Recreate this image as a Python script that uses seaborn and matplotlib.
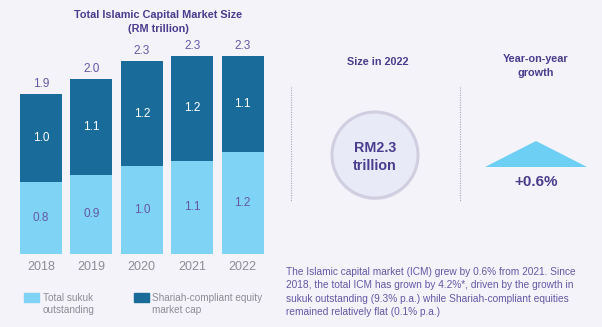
import matplotlib
matplotlib.use("Agg")
import matplotlib.pyplot as plt
import seaborn as sns
import pandas as pd
from matplotlib.patches import Circle, Polygon, Rectangle

# ---- data ----
years = ["2018", "2019", "2020", "2021", "2022"]
sukuk = [0.85, 0.93, 1.03, 1.10, 1.20]
equity = [1.03, 1.13, 1.24, 1.23, 1.13]
sukuk_labels = ["0.8", "0.9", "1.0", "1.1", "1.2"]
equity_labels = ["1.0", "1.1", "1.2", "1.2", "1.1"]
total_labels = ["1.9", "2.0", "2.3", "2.3", "2.3"]
legend_labels = ["Total sukuk\noutstanding", "Shariah-compliant equity\nmarket cap"]
title = "Total Islamic Capital Market Size\n(RM trillion)"
size_title = "Size in 2022"
size_value = "RM2.3\ntrillion"
growth_title = "Year-on-year\ngrowth"
growth_value = "+0.6%"
paragraph = ("The Islamic capital market (ICM) grew by 0.6% from 2021. Since\n"
             "2018, the total ICM has grown by 4.2%*, driven by the growth in\n"
             "sukuk outstanding (9.3% p.a.) while Shariah-compliant equities\n"
             "remained relatively flat (0.1% p.a.)")

BG = "#f4f3f9"
DARK = "#196c9a"
LIGHT = "#7fd3f5"
PURPLE = "#4b3c8e"
PURPLE_L = "#6459a6"
GREY = "#8d8b99"

sns.set_theme(style="white")
plt.rcParams["font.family"] = ["Liberation Sans", "DejaVu Sans"]

W, H = 602, 327
fig = plt.figure(figsize=(W / 100, H / 100), dpi=100, facecolor=BG)

def px_axes(x0, y0, x1, y1):
    return [x0 / W, 1 - y1 / H, (x1 - x0) / W, (y1 - y0) / H]

df = pd.DataFrame({"year": years, "sukuk": sukuk, "equity": equity})
df["total"] = df["sukuk"] + df["equity"]

ax = fig.add_axes(px_axes(15.8, 33, 267.8, 254))
ax.set_facecolor("none")
sns.barplot(data=df, x="year", y="total", color=DARK, saturation=1, width=0.83,
            linewidth=0, ax=ax)
sns.barplot(data=df, x="year", y="sukuk", color=LIGHT, saturation=1, width=0.83,
            linewidth=0, ax=ax)
ax.set_xlim(-0.5, 4.5)
ax.set_ylim(0, 2.6)
ax.set_xlabel("")
ax.set_ylabel("")
ax.set_yticks([])
ax.tick_params(axis="x", length=0, pad=5, labelsize=9, labelcolor=GREY)
for s in ax.spines.values():
    s.set_visible(False)

for i in range(len(years)):
    s, e = df["sukuk"][i], df["equity"][i]
    ax.text(i, s / 2, sukuk_labels[i], ha="center", va="center", fontsize=8.5, color=PURPLE_L)
    ax.text(i, s + e / 2, equity_labels[i], ha="center", va="center", fontsize=8.5, color="white")
    ax.annotate(total_labels[i], (i, s + e), xytext=(0, 3), textcoords="offset points",
                ha="center", va="bottom", fontsize=8.5, color=PURPLE_L)

# overlay in pixel coordinates
ov = fig.add_axes([0, 0, 1, 1])
ov.set_xlim(0, W)
ov.set_ylim(H, 0)
ov.axis("off")
ov.patch.set_alpha(0)

ov.text(158, 21.5, title, ha="center", va="center", fontsize=7.8, fontweight="bold",
        color=PURPLE, linespacing=1.5)

# legend
ov.add_patch(Rectangle((24, 293), 15, 9, color=LIGHT))
ov.add_patch(Rectangle((134, 293), 15, 9, color=DARK))
ov.text(43, 304, legend_labels[0], ha="left", va="center", fontsize=7.2, color=GREY,
        linespacing=1.35)
ov.text(152, 304, legend_labels[1], ha="left", va="center", fontsize=7.2, color=GREY,
        linespacing=1.35)

# right panel
ov.text(378, 62, size_title, ha="center", va="center", fontsize=7.8, fontweight="bold",
        color=PURPLE)
ov.text(536, 65.5, growth_title, ha="center", va="center", fontsize=7.8, fontweight="bold",
        color=PURPLE, linespacing=1.5)
for x in (291, 460):
    ov.plot([x, x], [87, 202], ls=(0, (1, 1.2)), color="#a9a8b5", lw=0.8)
ov.add_patch(Circle((375, 156), 44, facecolor="#d9d8e6", edgecolor="none", alpha=0.6))
ov.add_patch(Circle((375, 155), 43, facecolor="#e8ebf7", edgecolor="#d0cee0", lw=2.2))
ov.text(375, 157, size_value, ha="center", va="center", fontsize=10.3, fontweight="bold",
        color=PURPLE, linespacing=1.35)
ov.add_patch(Polygon([(485, 167), (536, 141), (587, 167)], closed=True, color="#6ccff3", lw=0))
ov.text(536, 182, growth_value, ha="center", va="center", fontsize=11, fontweight="bold",
        color=PURPLE)

ov.text(286, 292, paragraph, ha="left", va="center", fontsize=7.3, color=PURPLE_L,
        linespacing=1.42)

fig.savefig("out.png", dpi=100, facecolor=BG)
